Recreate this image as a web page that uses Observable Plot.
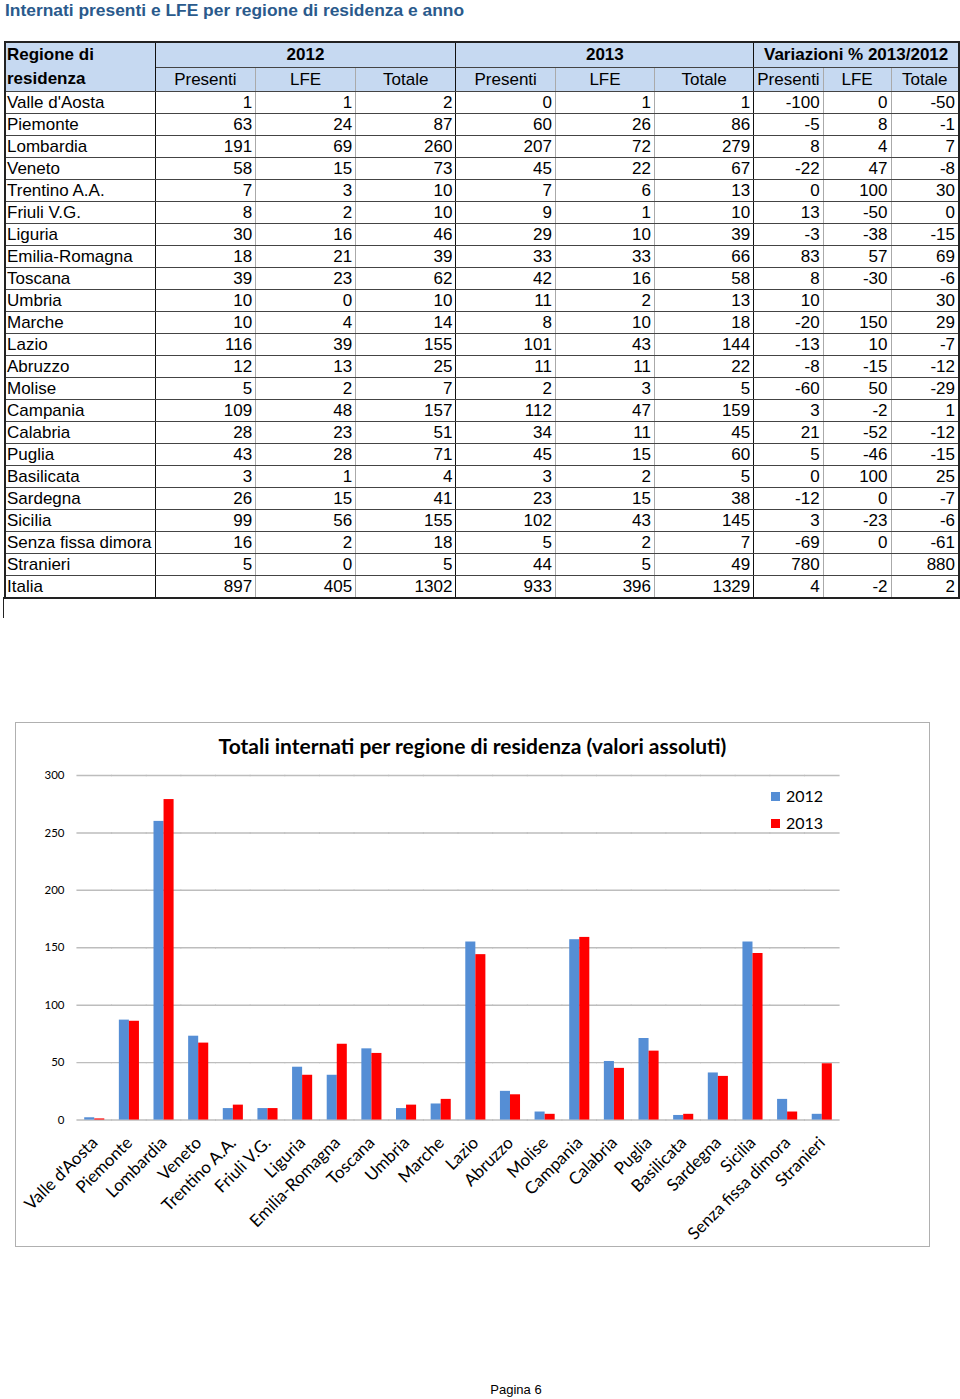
<!DOCTYPE html>
<html><head><meta charset="utf-8">
<script src="https://cdn.jsdelivr.net/npm/d3@7"></script>
<script src="https://cdn.jsdelivr.net/npm/@observablehq/plot@0.6"></script>
<style>
html,body{margin:0;padding:0;background:#fff;}
body{width:960px;height:1399px;position:relative;overflow:hidden;font-family:"Liberation Sans",Arial,sans-serif;}
#title{position:absolute;left:5px;top:0px;font-size:17.4px;font-weight:bold;color:#2a5a8c;white-space:nowrap;}
table{position:absolute;left:4px;top:41px;border-collapse:collapse;table-layout:fixed;font-size:17px;color:#000;border:2px solid #222;}
td,th{padding:0 3px;white-space:nowrap;overflow:hidden;height:21px;line-height:21px;border-top:1px solid #444;border-bottom:1px solid #444;}
th{background:#c6d9f1;height:23px;line-height:23px;}
th.top{font-weight:bold;text-align:center;}
th.sub{font-weight:normal;text-align:center;}
th.reg{text-align:left;font-weight:bold;line-height:24px;vertical-align:bottom;padding-left:1px;}
td.name{text-align:left;border-right:1.5px solid #111;padding-left:1px;}
td.num{text-align:right;border-right:1px solid #aaa;}
.gr{border-right:1.5px solid #111 !important;}
th.sub{border-right:1px solid #aaa;}
#stub{position:absolute;left:3px;top:597px;width:1px;height:21px;background:#222;}
#chartbox{position:absolute;left:15px;top:722px;width:913px;height:523px;border:1px solid #b0b0b0;}
#ctitle{position:absolute;left:0;top:10px;width:913px;text-align:center;font-family:Lato,"Open Sans",sans-serif;font-weight:bold;font-size:21px;color:#000;}
#plot{position:absolute;left:-1px;top:-1px;}
#legend{position:absolute;left:755px;top:62px;font-family:Lato,sans-serif;font-size:16px;color:#000;}
#legend div{height:27px;line-height:22px;white-space:nowrap;}
#legend span.sw{display:inline-block;width:9px;height:9px;margin-right:6px;vertical-align:1px;}
#footer{position:absolute;left:0;width:1032px;top:1382px;text-align:center;font-size:13px;font-family:"Liberation Sans",Arial,sans-serif;}
</style>
</head><body>
<div id="title">Internati presenti e LFE per regione di residenza e anno</div>
<table id="tbl"></table>
<div id="stub"></div>
<div id="chartbox">
  <div id="plot"></div>
  <div id="ctitle">Totali internati per regione di residenza (valori assoluti)</div>
  <div id="legend"></div>
</div>
<div id="footer">Pagina 6</div>
<script>
const regions = ["Valle d'Aosta","Piemonte","Lombardia","Veneto","Trentino A.A.","Friuli V.G.","Liguria","Emilia-Romagna","Toscana","Umbria","Marche","Lazio","Abruzzo","Molise","Campania","Calabria","Puglia","Basilicata","Sardegna","Sicilia","Senza fissa dimora","Stranieri","Italia"];
const pres2012 = [1,63,191,58,7,8,30,18,39,10,10,116,12,5,109,28,43,3,26,99,16,5,897];
const lfe2012  = [1,24,69,15,3,2,16,21,23,0,4,39,13,2,48,23,28,1,15,56,2,0,405];
const tot2012  = [2,87,260,73,10,10,46,39,62,10,14,155,25,7,157,51,71,4,41,155,18,5,1302];
const pres2013 = [0,60,207,45,7,9,29,33,42,11,8,101,11,2,112,34,45,3,23,102,5,44,933];
const lfe2013  = [1,26,72,22,6,1,10,33,16,2,10,43,11,3,47,11,15,2,15,43,2,5,396];
const tot2013  = [1,86,279,67,13,10,39,66,58,13,18,144,22,5,159,45,60,5,38,145,7,49,1329];
const varPres  = [-100,-5,8,-22,0,13,-3,83,8,10,-20,-13,-8,-60,3,21,5,0,-12,3,-69,780,4];
const varLfe   = [0,8,4,47,100,-50,-38,57,-30,null,150,10,-15,50,-2,-52,-46,100,0,-23,0,null,-2];
const varTot   = [-50,-1,7,-8,30,0,-15,69,-6,30,29,-7,-12,-29,1,-12,-15,25,-7,-6,-61,880,2];
const groupHeads = ["2012","2013","Variazioni % 2013/2012"];
const subHeads = ["Presenti","LFE","Totale"];
const years = ["2012","2013"];
const colors = ["#558ed5","#ff0000"];
const yTicks = [0,50,100,150,200,250,300];
const chartTitle = "Totali internati per regione di residenza (valori assoluti)";

// ---- table ----
const colW = [143,101,101,101,100,100,100,68,68,68];
const tbl = document.getElementById("tbl");
let html = "<colgroup>" + colW.map(w=>`<col style="width:${w}px">`).join("") + "</colgroup>";
html += `<tr><th class="reg gr" rowspan="2">Regione di<br>residenza</th>` +
  groupHeads.map(g=>`<th class="top gr" colspan="3">${g}</th>`).join("") + "</tr>";
html += "<tr>" + groupHeads.map(()=>subHeads.map((s,j)=>`<th class="sub${j===2?" gr":""}">${s}</th>`).join("")).join("") + "</tr>";
const cols = [pres2012,lfe2012,tot2012,pres2013,lfe2013,tot2013,varPres,varLfe,varTot];
regions.forEach((r,i)=>{
  html += `<tr><td class="name">${r}</td>` + cols.map((c,j)=>`<td class="num${j%3===2?" gr":""}">${c[i]==null?"":c[i]}</td>`).join("") + "</tr>";
});
tbl.innerHTML = html;

// ---- chart ----
const chartRegions = regions.slice(0,22);
const barData = chartRegions.flatMap((r,i)=>[
  {region:r, year:years[0], value:tot2012[i]},
  {region:r, year:years[1], value:tot2013[i]}
]);
const W = 915, mL = 62, mR = 90;
const padIn = 0.42, padOut = 0.21;
const step = (W - mL - mR) / (chartRegions.length - padIn + 2*padOut);
const gap = step * padOut;              // outer gap = half inner gap
const ext = -(gap + 0.5);               // extend gridlines across facet gaps
const chart = Plot.plot({
  width: W, height: 525,
  marginLeft: mL, marginRight: mR, marginTop: 53, marginBottom: 127,
  style: {fontFamily: "Lato, 'Open Sans', sans-serif", background: "transparent", color: "#000"},
  fx: {domain: chartRegions, paddingInner: padIn, paddingOuter: padOut, round: false, label: null},
  x: {domain: years, axis: null, padding: 0, round: false},
  y: {domain: [0,300], label: null},
  color: {domain: years, range: colors},
  marks: [
    Plot.ruleY(yTicks, {stroke: "#bdbdbd", strokeWidth: 1.5, insetLeft: ext, insetRight: ext}),
    Plot.axisY({ticks: yTicks, tickSize: 0, tickPadding: 12, dx: -gap - 1, fontSize: 11.5, tickFormat: d=>String(d), label: null, line: true, stroke: "#bdbdbd", strokeWidth: 1.5, fill: "#000"}),
    Plot.axisFx({anchor: "bottom", tickRotate: -45, tickSize: 0, tickPadding: 20, fontSize: 17, label: null, fill: "#000"}),
    Plot.barY(barData, {fx: "region", x: "year", y: "value", fill: "year"})
  ]
});
document.getElementById("plot").appendChild(chart);

document.getElementById("legend").innerHTML = years.map((y,i)=>`<div><span class="sw" style="background:${colors[i]}"></span>${y}</div>`).join("");
</script>
</body></html>
